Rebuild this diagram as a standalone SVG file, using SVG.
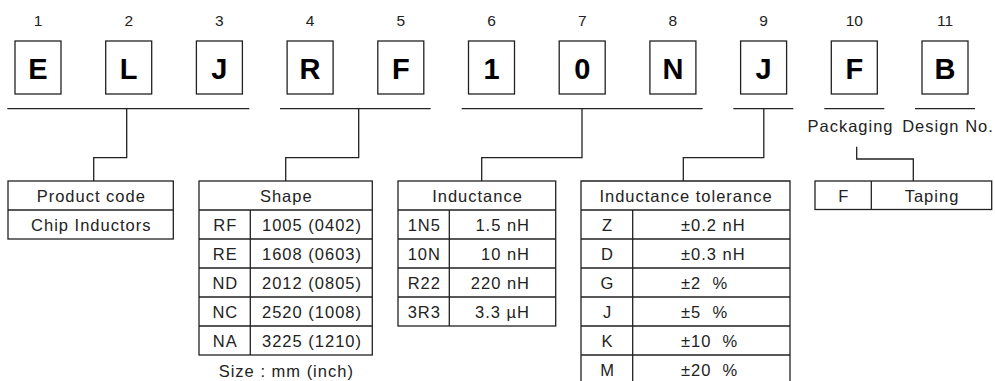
<svg xmlns="http://www.w3.org/2000/svg" width="995" height="381" viewBox="0 0 995 381">
<style>
.num{font-family:"Liberation Sans",Arial,sans-serif;font-size:15.5px;fill:#222;text-anchor:middle}
.big{font-family:"Liberation Sans",Arial,sans-serif;font-size:29px;font-weight:bold;fill:#000;text-anchor:middle}
.t{font-family:"Liberation Sans",Arial,sans-serif;font-size:16.5px;fill:#222;letter-spacing:1px;text-anchor:middle}
.ts{font-family:"Liberation Sans",Arial,sans-serif;font-size:16.5px;fill:#222;letter-spacing:1px;text-anchor:start}
.te{font-family:"Liberation Sans",Arial,sans-serif;font-size:16.5px;fill:#222;letter-spacing:1px;text-anchor:end}
.box{fill:#fff;stroke:#222;stroke-width:1.3}
.ln{fill:none;stroke:#222;stroke-width:1.3}
</style>
<rect width="995" height="381" fill="#fff"/>

<g id="chars">
  <g id="c1"><text class="num" x="38" y="26">1</text><rect class="box" x="15" y="41" width="46" height="53"/><text class="big" x="38" y="78.5">E</text></g>
  <g id="c2"><text class="num" x="128.7" y="26">2</text><rect class="box" x="105.7" y="41" width="46" height="53"/><text class="big" x="128.7" y="78.5">L</text></g>
  <g id="c3"><text class="num" x="219.4" y="26">3</text><rect class="box" x="196.4" y="41" width="46" height="53"/><text class="big" x="219.4" y="78.5">J</text></g>
  <g id="c4"><text class="num" x="310.1" y="26">4</text><rect class="box" x="287.1" y="41" width="46" height="53"/><text class="big" x="310.1" y="78.5">R</text></g>
  <g id="c5"><text class="num" x="400.8" y="26">5</text><rect class="box" x="377.8" y="41" width="46" height="53"/><text class="big" x="400.8" y="78.5">F</text></g>
  <g id="c6"><text class="num" x="491.5" y="26">6</text><rect class="box" x="468.5" y="41" width="46" height="53"/><text class="big" x="491.5" y="78.5">1</text></g>
  <g id="c7"><text class="num" x="582.2" y="26">7</text><rect class="box" x="559.2" y="41" width="46" height="53"/><text class="big" x="582.2" y="78.5">0</text></g>
  <g id="c8"><text class="num" x="672.9" y="26">8</text><rect class="box" x="649.9" y="41" width="46" height="53"/><text class="big" x="672.9" y="78.5">N</text></g>
  <g id="c9"><text class="num" x="763.6" y="26">9</text><rect class="box" x="740.6" y="41" width="46" height="53"/><text class="big" x="763.6" y="78.5">J</text></g>
  <g id="c10"><text class="num" x="854.3" y="26">10</text><rect class="box" x="831.3" y="41" width="46" height="53"/><text class="big" x="854.3" y="78.5">F</text></g>
  <g id="c11"><text class="num" x="945" y="26">11</text><rect class="box" x="922" y="41" width="46" height="53"/><text class="big" x="945" y="78.5">B</text></g>
</g>

<g id="connectors">
  <path class="ln" d="M7.3 108.7H249.3M126.7 108.7V157.7H93.7V181"/>
  <path class="ln" d="M280 108.7H430.7M358.7 108.7V157.7H285.7V181"/>
  <path class="ln" d="M461.7 108.7H702.7M582 108.7V157.7H481.7V181"/>
  <path class="ln" d="M733.3 108.7H793.3M763.8 108.7V157.7H683.3V181"/>
  <path class="ln" d="M824.3 108.7H884.3"/>
  <path class="ln" d="M915 108.7H975"/>
  <path class="ln" d="M856.7 146.7V159H913.3V181"/>
</g>

<g id="labels">
  <text class="t" x="850.5" y="131.5">Packaging</text>
  <text class="t" x="948" y="131.5">Design No.</text>
</g>

<g id="product-code">
  <rect class="box" x="8" y="181" width="165.3" height="58"/>
  <path class="ln" d="M8 210H173.3"/>
  <text class="t" x="91.3" y="202">Product code</text>
  <text class="t" x="91.3" y="231">Chip Inductors</text>
</g>

<g id="shape">
  <rect class="box" x="199" y="181" width="173.3" height="174"/>
  <path class="ln" d="M199 210H372.3M199 239H372.3M199 268H372.3M199 297H372.3M199 326H372.3M250.3 210V355"/>
  <text class="t" x="286.3" y="202">Shape</text>
  <text class="t" x="225.3" y="231">RF</text><text class="t" x="312" y="231">1005 (0402)</text>
  <text class="t" x="225.3" y="260">RE</text><text class="t" x="312" y="260">1608 (0603)</text>
  <text class="t" x="225.3" y="289">ND</text><text class="t" x="312" y="289">2012 (0805)</text>
  <text class="t" x="225.3" y="318">NC</text><text class="t" x="312" y="318">2520 (1008)</text>
  <text class="t" x="225.3" y="347">NA</text><text class="t" x="312" y="347">3225 (1210)</text>
  <text class="t" x="286.3" y="377">Size : mm (inch)</text>
</g>

<g id="inductance">
  <rect class="box" x="398" y="181" width="157.7" height="145"/>
  <path class="ln" d="M398 210H555.7M398 239H555.7M398 268H555.7M398 297H555.7M449.3 210V326"/>
  <text class="t" x="477.5" y="202">Inductance</text>
  <text class="t" x="424.3" y="231">1N5</text><text class="te" x="530" y="231">1.5 nH</text>
  <text class="t" x="424.3" y="260">10N</text><text class="te" x="530" y="260">10 nH</text>
  <text class="t" x="424.3" y="289">R22</text><text class="te" x="530" y="289">220 nH</text>
  <text class="t" x="424.3" y="318">3R3</text><text class="te" x="530" y="318">3.3 µH</text>
</g>

<g id="tolerance">
  <path class="box" d="M581 390V181H790V390"/>
  <path class="ln" d="M581 210H790M581 239H790M581 268H790M581 297H790M581 326H790M581 355H790M632.7 210V390"/>
  <text class="t" x="686" y="202">Inductance tolerance</text>
  <text class="t" x="607.5" y="231">Z</text><text class="ts" x="681" y="231">±0.2 nH</text>
  <text class="t" x="607.5" y="260">D</text><text class="ts" x="681" y="260">±0.3 nH</text>
  <text class="t" x="607.5" y="289">G</text><text class="ts" x="681" y="289" xml:space="preserve">±2  %</text>
  <text class="t" x="607.5" y="318">J</text><text class="ts" x="681" y="318" xml:space="preserve">±5  %</text>
  <text class="t" x="607.5" y="347">K</text><text class="ts" x="681" y="347" xml:space="preserve">±10  %</text>
  <text class="t" x="607.5" y="376">M</text><text class="ts" x="681" y="376" xml:space="preserve">±20  %</text>
</g>

<g id="packaging">
  <rect class="box" x="815" y="181" width="176.7" height="28.5"/>
  <path class="ln" d="M871.3 181V209.5"/>
  <text class="t" x="843.8" y="202">F</text>
  <text class="t" x="932" y="202">Taping</text>
</g>
</svg>
